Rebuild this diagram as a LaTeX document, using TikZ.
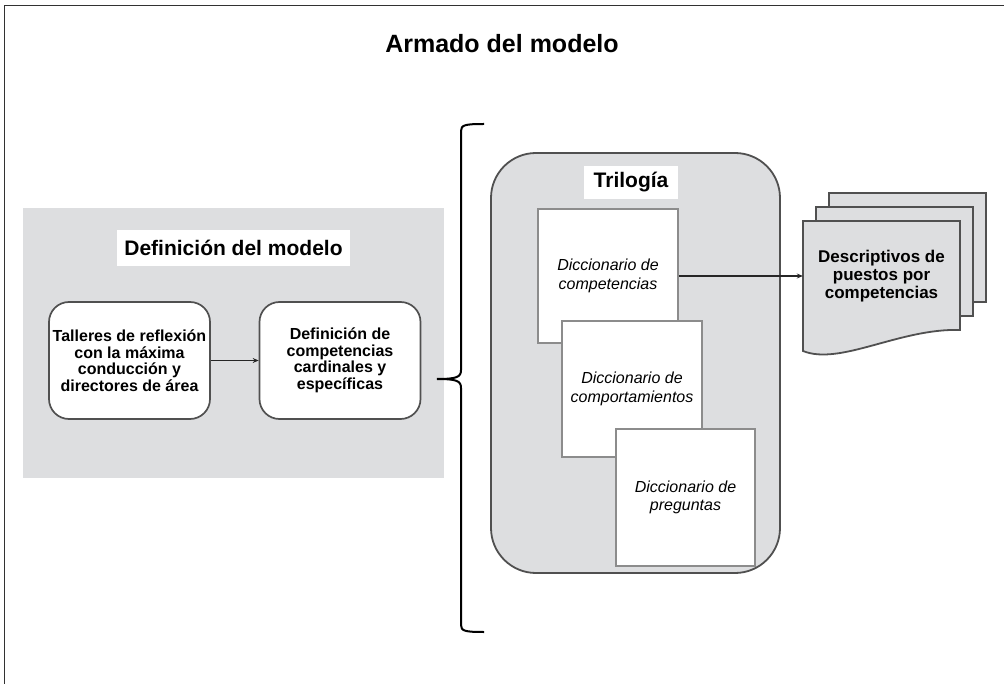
\documentclass[tikz,border=0pt]{standalone}
\usepackage{fontspec}
\setmainfont{Liberation Sans}
\usetikzlibrary{arrows.meta}
\definecolor{panel}{RGB}{221,222,224}
\definecolor{edgegray}{RGB}{80,80,80}
\definecolor{cardedge}{RGB}{140,140,140}
\definecolor{framegray}{RGB}{50,50,50}
\newcommand{\docoutline}[2]{%
  \draw[edgegray,fill=panel,line width=1.8pt]
    (803+#1,221+#2) -- (960+#1,221+#2) -- (960+#1,330+#2)
    .. controls (900+#1,328+#2) and (840+#1,366+#2) .. (803+#1,351+#2) -- cycle;}
\begin{document}
\begin{tikzpicture}[x=1pt,y=-1pt,
  rbox/.style={draw=edgegray,line width=1.7pt,fill=white,rounded corners=20pt,
    minimum width=161pt,minimum height=117pt,align=center,
    font=\fontsize{16}{16.5}\selectfont\bfseries,inner sep=0pt},
  card/.style={draw=cardedge,line width=1.8pt,fill=white,align=center,
    font=\fontsize{16}{18.5}\selectfont\itshape,inner sep=0pt},
  lbl/.style={fill=white,inner sep=0pt,align=center},
  conn/.style={line width=1.6pt,draw=black!85,-{Stealth[length=6pt,width=5pt]}},
]
\useasboundingbox (0,0) rectangle (1004,684);
\fill[white] (0,0) rectangle (1004,684);
\draw[framegray,line width=1.8pt] (4.5,700) -- (4.5,5.5) -- (1020,5.5);

% title
\node[font=\fontsize{25}{28}\selectfont\bfseries] (title) at (502,44) {Armado del modelo};

% left panel
\fill[panel] (23,208) rectangle (444,478);
\node[lbl,minimum width=233pt,minimum height=36pt,font=\fontsize{21}{24}\selectfont\bfseries] (deflbl) at (233.5,248) {Definición del modelo};
\node[rbox] (b1) at (129.5,360.5) {Talleres de reflexión\\con la máxima\\conducción y\\directores de área};
\node[rbox] (b2) at (340,360.5) {Definición de\\competencias\\cardinales y\\específicas};
\draw[conn] (b1.east) -- (b2.west);

% brace
\draw[black,line width=2pt]
  (484,124) .. controls (465,124) and (461,125) .. (461,131) -- (461,370)
  .. controls (461,377) and (457,379) .. (437,379)
  .. controls (457,379) and (461,381) .. (461,388) -- (461,625)
  .. controls (461,631) and (465,632) .. (484,632);

% trilogy
\node[draw=edgegray,line width=1.8pt,fill=panel,rounded corners=45pt,
  minimum width=289pt,minimum height=420pt] (tri) at (635.5,363) {};
\node[lbl,minimum width=94pt,minimum height=33pt,font=\fontsize{21}{24}\selectfont\bfseries] (trilbl) at (631,182.5) {Trilogía};
\node[card,minimum width=140pt,minimum height=134pt] (c1) at (608,276) {Diccionario de\\competencias};
\node[card,minimum width=140pt,minimum height=136pt] (c2) at (632,389) {Diccionario de\\comportamientos};
\node[card,minimum width=139pt,minimum height=137pt] (c3) at (685.5,497.5) {Diccionario de\\preguntas};

% documents
\docoutline{26}{-28}
\docoutline{13}{-14}
\docoutline{0}{0}
\node[align=center,inner sep=0pt,minimum width=157pt,font=\fontsize{17}{18.3}\selectfont\bfseries] (doc) at (881.5,276) {Descriptivos de\\puestos por\\competencias};
\draw[conn] (c1.east) -- (doc.west);
\end{tikzpicture}
\end{document}
